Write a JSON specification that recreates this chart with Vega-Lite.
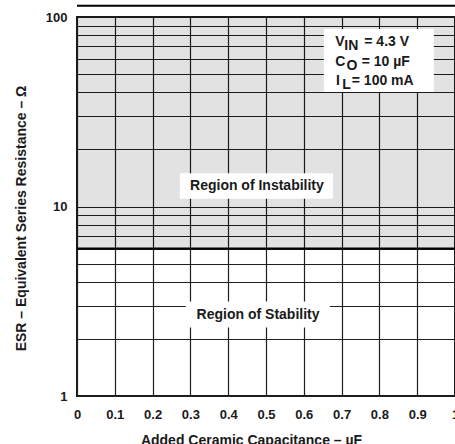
{
  "$schema": "https://vega.github.io/schema/vega-lite/v6.json",
  "width": 378,
  "height": 379,
  "autosize": {"type": "none"},
  "padding": {"left": 77, "top": 17, "right": 0, "bottom": 48},
  "config": {
    "view": {"stroke": "#1a1a1a", "strokeWidth": 2},
    "font": "Liberation Sans",
    "text": {"font": "Liberation Sans", "fontWeight": "bold", "fontSize": 14, "color": "#1a1a1a"}
  },
  "data": {
    "values": [
      {"cap": 0, "esr_min": 6, "esr_max": 100},
      {"cap": 1, "esr_min": 6, "esr_max": 100}
    ]
  },
  "layer": [
    {
      "mark": {"type": "area", "color": "black", "opacity": 0.115},
      "encoding": {
        "x": {
          "field": "cap",
          "type": "quantitative",
          "scale": {"domain": [0, 1], "nice": false, "zero": false},
          "axis": {
            "title": "Added Ceramic Capacitance – µF",
            "values": [0, 0.1, 0.2, 0.3, 0.4, 0.5, 0.6, 0.7, 0.8, 0.9, 1],
            "tickCount": 20,
            "format": "~g",
            "grid": true,
            "gridColor": "#1f1f1f",
            "gridWidth": 1.2,
            "ticks": false,
            "domain": false,
            "labelFlush": false,
            "labelOverlap": false,
            "labelFont": "Liberation Sans",
            "labelFontWeight": "bold",
            "labelFontSize": 13,
            "labelColor": "#1a1a1a",
            "labelPadding": 12,
            "titleFont": "Liberation Sans",
            "titleFontWeight": "bold",
            "titleFontSize": 14,
            "titleColor": "#1a1a1a",
            "titleX": 174,
            "titleY": 44,
            "titleBaseline": "middle"
          }
        },
        "y": {
          "field": "esr_min",
          "type": "quantitative",
          "scale": {"type": "log", "domain": [1, 100], "nice": false},
          "axis": {
            "title": "ESR – Equivalent Series Resistance – Ω",
            "values": [1, 2, 3, 4, 5, 6, 7, 8, 9, 10, 20, 30, 40, 50, 60, 70, 80, 90, 100],
            "tickCount": 40,
            "format": "d",
            "labelExpr": "datum.value == 1 || datum.value == 10 || datum.value == 100 ? datum.label : ''",
            "grid": true,
            "gridColor": "#1f1f1f",
            "gridWidth": 1.2,
            "ticks": false,
            "domain": false,
            "labelOverlap": false,
            "labelFont": "Liberation Sans",
            "labelFontWeight": "bold",
            "labelFontSize": 13,
            "labelColor": "#1a1a1a",
            "labelPadding": 10,
            "titleFont": "Liberation Sans",
            "titleFontWeight": "bold",
            "titleFontSize": 14,
            "titleColor": "#1a1a1a",
            "titleX": -56,
            "titleY": 201,
            "titleAngle": -90,
            "titleAlign": "center",
            "titleBaseline": "middle"
          }
        },
        "y2": {"field": "esr_max"}
      }
    },
    {
      "mark": {"type": "line", "color": "black", "strokeWidth": 2},
      "encoding": {
        "x": {"field": "cap", "type": "quantitative"},
        "y": {"field": "esr_min", "type": "quantitative"}
      }
    },
    {
      "data": {"values": [{}]},
      "mark": {"type": "rule", "color": "black", "strokeWidth": 2, "clip": false},
      "encoding": {
        "x": {"datum": 0},
        "x2": {"datum": 1},
        "y": {"datum": 114.5}
      }
    },
    {
      "data": {"values": [{}]},
      "mark": {"type": "rect", "color": "white", "opacity": 1},
      "encoding": {
        "x": {"datum": 0.272},
        "x2": {"datum": 0.677},
        "y": {"datum": 11.0},
        "y2": {"datum": 14.97}
      }
    },
    {
      "data": {"values": [{}]},
      "mark": {"type": "text", "align": "center", "baseline": "middle"},
      "encoding": {
        "x": {"datum": 0.476},
        "y": {"datum": 12.8},
        "text": {"value": "Region of Instability"}
      }
    },
    {
      "data": {"values": [{}]},
      "mark": {"type": "rect", "color": "white", "opacity": 1},
      "encoding": {
        "x": {"datum": 0.288},
        "x2": {"datum": 0.669},
        "y": {"datum": 2.3},
        "y2": {"datum": 3.15}
      }
    },
    {
      "data": {"values": [{}]},
      "mark": {"type": "text", "align": "center", "baseline": "middle"},
      "encoding": {
        "x": {"datum": 0.479},
        "y": {"datum": 2.69},
        "text": {"value": "Region of Stability"}
      }
    },
    {
      "data": {"values": [{}]},
      "mark": {"type": "rect", "color": "white", "opacity": 1},
      "encoding": {
        "x": {"datum": 0.653},
        "x2": {"datum": 0.944},
        "y": {"datum": 40.2},
        "y2": {"datum": 86.4}
      }
    },
    {
      "data": {"values": [{}]},
      "mark": {"type": "text", "align": "left", "baseline": "middle"},
      "encoding": {"x": {"datum": 0.683}, "y": {"datum": 74.1}, "text": {"value": "V"}}
    },
    {
      "data": {"values": [{}]},
      "mark": {"type": "text", "align": "left", "baseline": "middle", "dy": 4},
      "encoding": {"x": {"datum": 0.707}, "y": {"datum": 74.1}, "text": {"value": "IN"}}
    },
    {
      "data": {"values": [{}]},
      "mark": {"type": "text", "align": "left", "baseline": "middle"},
      "encoding": {"x": {"datum": 0.76}, "y": {"datum": 74.1}, "text": {"value": "= 4.3 V"}}
    },
    {
      "data": {"values": [{}]},
      "mark": {"type": "text", "align": "left", "baseline": "middle"},
      "encoding": {"x": {"datum": 0.683}, "y": {"datum": 58.1}, "text": {"value": "C"}}
    },
    {
      "data": {"values": [{}]},
      "mark": {"type": "text", "align": "left", "baseline": "middle", "dy": 4},
      "encoding": {"x": {"datum": 0.713}, "y": {"datum": 58.1}, "text": {"value": "O"}}
    },
    {
      "data": {"values": [{}]},
      "mark": {"type": "text", "align": "left", "baseline": "middle"},
      "encoding": {"x": {"datum": 0.753}, "y": {"datum": 58.1}, "text": {"value": "= 10 µF"}}
    },
    {
      "data": {"values": [{}]},
      "mark": {"type": "text", "align": "left", "baseline": "middle"},
      "encoding": {"x": {"datum": 0.685}, "y": {"datum": 45.9}, "text": {"value": "I"}}
    },
    {
      "data": {"values": [{}]},
      "mark": {"type": "text", "align": "left", "baseline": "middle", "dy": 4},
      "encoding": {"x": {"datum": 0.702}, "y": {"datum": 45.9}, "text": {"value": "L"}}
    },
    {
      "data": {"values": [{}]},
      "mark": {"type": "text", "align": "left", "baseline": "middle"},
      "encoding": {"x": {"datum": 0.727}, "y": {"datum": 45.9}, "text": {"value": "= 100 mA"}}
    }
  ]
}
